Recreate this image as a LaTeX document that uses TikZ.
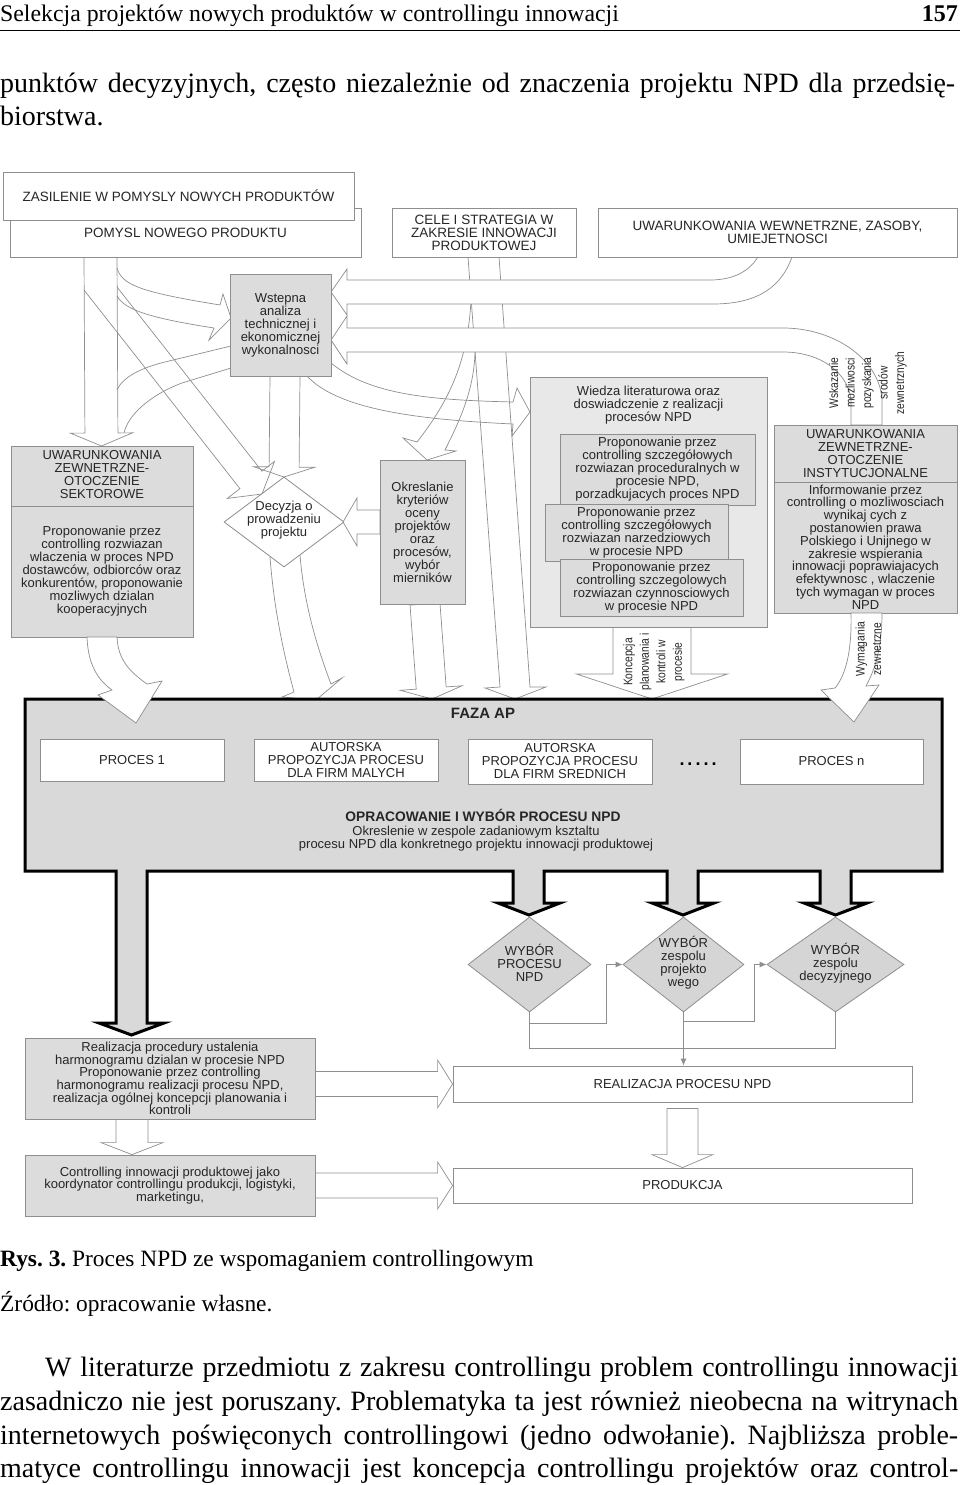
\documentclass[tikz,border=0pt]{standalone}
\usepackage{fontspec}
\setmainfont{Liberation Serif}
\newfontfamily\arialfont{Liberation Sans}
\newfontfamily\narrowfont{Liberation Sans}[FakeStretch=0.82]
\usetikzlibrary{calc,positioning,shapes.geometric,arrows.meta}
\frenchspacing

\definecolor{edgegrey}{HTML}{8E8E8E}
\definecolor{boxgrey}{HTML}{DCDCDC}
\definecolor{paleg}{HTML}{E8E8E8}
\definecolor{fazagrey}{HTML}{D9D9D9}
\definecolor{diagrey}{HTML}{D5D5D5}
\definecolor{inkgrey}{HTML}{262626}

\tikzset{
    txt/.style={align=center, inner sep=0pt, text=inkgrey, font=\arialfont\fontsize{13}{13}\selectfont},
    whitebox/.style={txt, draw=edgegrey, fill=white, line width=0.8pt},
    greybox/.style={whitebox, fill=boxgrey},
    band/.style={draw=edgegrey, line width=0.7pt, line join=miter},
    decision/.style={diamond, draw=edgegrey, line width=0.8pt, inner sep=0pt},
    vtext/.style={rotate=90, align=center, inner sep=0pt, text=inkgrey, font=\narrowfont\fontsize{12.5}{16.5}\selectfont},
    conn/.style={draw=edgegrey, line width=0.8pt, -{Latex[length=7pt,width=6pt]}},
    pagetext/.style={inner sep=0pt, anchor=base west, font=\fontsize{28}{33}\selectfont}
}

% straight hollow arrow: options, from, tip, half shaft, half head, head length
\newcommand{\blockarrow}[6][]{%
    \coordinate (ba-s) at (#2);
    \coordinate (ba-t) at (#3);
    \coordinate (ba-h) at ($(ba-t)!#6!(ba-s)$);
    \draw[band,#1] ($(ba-s)!#4!90:(ba-t)$) -- ($(ba-h)!#4!90:(ba-t)$) -- ($(ba-h)!#5!90:(ba-t)$)
        -- (ba-t) -- ($(ba-h)!#5!-90:(ba-t)$) -- ($(ba-h)!#4!-90:(ba-t)$) -- ($(ba-s)!#4!-90:(ba-t)$) -- cycle;
}

\begin{document}
\begin{tikzpicture}[x=1pt,y=-1pt]
    \useasboundingbox (0,0) rectangle (960,1485);

    % page text
    \node[inner sep=0pt, anchor=base west, font=\fontsize{23.8}{24}\selectfont] (runhead) at (0,22) {Selekcja projektów nowych produktów w controllingu innowacji};
    \node[inner sep=0pt, anchor=base east, font=\bfseries\fontsize{24}{24}\selectfont] (pageno) at (958,22) {157};
    \draw[line width=1pt] (0,31) -- (960,31);
    \node[pagetext] (txt1) at (0,93) {\makebox[955pt][s]{punktów decyzyjnych, często niezależnie od znaczenia projektu NPD dla przedsię-}};
    \node[pagetext] (txt2) at (0,126) {biorstwa.};

    % hollow arrows, upper part
    \blockarrow{100.5,0 |- 0,257}{101.5,446}{16.5pt}{31pt}{13pt}
    \draw[band] (117,268) .. controls (122,285) and (140,292) .. (220,305) -- (223,294) -- (231,318)
        -- (209,340) -- (214,328) .. controls (150,318) and (125,310) .. (117,296);
    \draw[band] (117,390) .. controls (122,378) and (140,368) .. (165,362) -- (231,346);
    \draw[band] (124,433) .. controls (128,415) and (150,395) .. (182,383) -- (231,368);
    \draw[band] (117,287) -- (261.9,471.2) -- (274.5,461.4) -- (262,494) -- (227.3,498.4) -- (239.9,488.6) -- (84,290);
    \blockarrow{285,376}{284,477}{15pt}{30.5pt}{10pt}
    \blockarrow{380,522}{343,522}{12pt}{24pt}{14pt}
    \draw[band] (270,557) .. controls (274,610) and (284,655) .. (294,692) -- (282,697) -- (316,700)
        -- (342,678) -- (331,684) .. controls (318,650) and (304,605) .. (300,555);
    \blockarrow{425,604}{432,699}{15pt}{31pt}{11pt}
    \draw[band] (468,257) -- (500,687) -- (485,688) -- (515,699) -- (546,687) -- (530,687) -- (499,257);
    \draw[band] (471,300) .. controls (468,360) and (450,400) .. (417,442) -- (403,438) -- (427,460)
        -- (456,451) -- (445,450) .. controls (460,420) and (474,390) .. (475,352);
    \draw[band] (331,363) .. controls (370,395) and (430,400) .. (513,402) -- (517,388) -- (530,412)
        -- (512,436) -- (513,424) .. controls (430,420) and (340,412) .. (307,376);
    \blockarrow{652,627}{652,699}{39pt}{75.5pt}{25pt}
    \draw[band, fill=white] (758,257) .. controls (750,270) and (735,280) .. (710,280) -- (347,280) -- (347,269)
        -- (331,292) -- (347,315) -- (347,304) -- (713,304) .. controls (760,304) and (782,285) .. (792,257) -- cycle;
    \draw[band, fill=white] (851,425) -- (851,400) .. controls (848,372) and (820,352) .. (783,352) -- (347,352)
        -- (347,364) -- (331,340) -- (347,316) -- (347,328) -- (783,328) .. controls (835,328) and (880,360) .. (882,400)
        -- (882,425) -- cycle;

    % boxes, upper part
    \node[whitebox, font=\arialfont\fontsize{13.5}{13}\selectfont, minimum width=351pt, minimum height=49pt] (pomysl) at (185.5,232.5) {POMYSL NOWEGO PRODUKTU};
    \node[whitebox, font=\arialfont\fontsize{13.5}{13}\selectfont, minimum width=351pt, minimum height=48pt] (zasil) at (178.5,196) {ZASILENIE W POMYSLY NOWYCH PRODUKTÓW};
    \node[whitebox, font=\arialfont\fontsize{13.5}{13}\selectfont, minimum width=184pt, minimum height=49pt] (cele) at (484,232.5) {CELE I STRATEGIA W\\ ZAKRESIE INNOWACJI\\ PRODUKTOWEJ};
    \node[whitebox, font=\arialfont\fontsize{13.5}{13}\selectfont, minimum width=359pt, minimum height=49pt] (wewn) at (777.5,232.5) {UWARUNKOWANIA WEWNETRZNE, ZASOBY,\\ UMIEJETNOSCI};

    \node[greybox, minimum width=101pt, minimum height=102pt] (wstepna) at (280.5,325) {Wstepna\\ analiza\\ technicznej i\\ ekonomicznej\\ wykonalnosci};

    \node[greybox, minimum width=182pt, minimum height=191pt] (sekt) at (102,541.5) {};
    \draw[band] (sekt.west |- 0,506) -- (sekt.east |- 0,506);
    \node[txt] (sekt-head) at (102,475) {UWARUNKOWANIA\\ ZEWNETRZNE-\\ OTOCZENIE\\ SEKTOROWE};
    \node[txt] (sekt-body) at (102,571) {Proponowanie przez\\ controlling rozwiazan\\ wlaczenia w proces NPD\\ dostawców, odbiorców oraz\\ konkurentów, proponowanie\\ mozliwych dzialan\\ kooperacyjnych};

    \node[decision, fill=white, minimum width=120pt, minimum height=90pt] (dec) at (284,522) {};
    \node[txt] (dec-t) at (284,520) {Decyzja o\\ prowadzeniu\\ projektu};

    \node[greybox, minimum width=85pt, minimum height=144pt] (okr) at (422.5,532) {Okreslanie\\ kryteriów\\ oceny\\ projektów\\ oraz\\ procesów,\\ wybór\\ mierników};

    \node[whitebox, fill=paleg, minimum width=237pt, minimum height=250pt] (wiedza) at (648.5,502) {};
    \node[txt] (wiedza-t) at (648.5,405) {Wiedza literaturowa oraz\\ doswiadczenie z realizacji\\ procesów NPD};
    \node[greybox, minimum width=195pt, minimum height=71pt] (proc-a) at (657.5,469.5) {Proponowanie przez\\ controlling szczegółowych\\ rozwiazan  proceduralnych w\\ procesie NPD,\\ porzadkujacych proces NPD};
    \node[greybox, minimum width=183pt, minimum height=57pt] (proc-b) at (636.5,532.5) {Proponowanie przez\\ controlling szczegółowych\\ rozwiazan  narzedziowych\\ w procesie NPD};
    \node[greybox, minimum width=183pt, minimum height=57pt] (proc-c) at (651.5,587.5) {Proponowanie przez\\ controlling szczegolowych\\ rozwiazan  czynnosciowych\\ w procesie NPD};

    \node[greybox, minimum width=183pt, minimum height=188pt] (instyt) at (865.5,519) {};
    \draw[band] (instyt.west |- 0,482) -- (instyt.east |- 0,482);
    \node[txt] (instyt-head) at (865.5,453.5) {UWARUNKOWANIA\\ ZEWNETRZNE-\\ OTOCZENIE\\ INSTYTUCJONALNE};
    \node[txt, font=\arialfont\fontsize{13}{12.8}\selectfont] (instyt-body) at (865.5,547) {Informowanie przez\\ controlling o mozliwosciach\\ wynikaj cych z\\ postanowien prawa\\ Polskiego i Unijnego w\\ zakresie  wspierania\\ innowacji  poprawiajacych\\ efektywnosc , wlaczenie\\ tych wymagan w proces\\ NPD};

    \node[vtext] (wskaz-t) at (868,383) {Wskazanie\\ mozliwosci\\ pozyskania\\ srodów\\ zewnetrznych};
    \node[vtext] (konc-t) at (654,662) {Koncepcja\\ planowania i\\ kontroli w\\ procesie};

    % faza AP with its thick arrows
    \draw[line width=3pt, fill=fazagrey, line join=miter] (25,699) -- (942,699) -- (942,871) -- (851,871) -- (851,903)
        -- (867,903) -- (835.5,915) -- (804,903) -- (820,903) -- (820,871) -- (698,871) -- (698,903) -- (714,903)
        -- (683,915) -- (652,903) -- (667,903) -- (667,871) -- (544,871) -- (544,903) -- (560,903) -- (529,915)
        -- (498,903) -- (513,903) -- (513,871) -- (147,871) -- (147,1023) -- (164,1023) -- (131.5,1035)
        -- (99,1023) -- (116,1023) -- (116,871) -- (25,871) -- cycle;
    \draw[band, fill=white] (87,637) .. controls (88,665) and (98,680) .. (112,690) -- (98,695) -- (136,723)
        -- (162,681) -- (147,684) .. controls (130,672) and (118,660) .. (117,637) -- cycle;
    \draw[band, fill=white] (851,613) .. controls (852,650) and (846,675) .. (835,688) -- (821,690) -- (854,722)
        -- (879,685) -- (866,686) .. controls (876,668) and (882,645) .. (882,613) -- cycle;
    \node[vtext] (wymag-t) at (868.5,649) {Wymagania\\ zewnetrzne};

    \node[txt, font=\arialfont\bfseries\fontsize{15}{15}\selectfont] (faza-t) at (483,713) {FAZA AP};
    \node[whitebox, minimum width=184pt, minimum height=42pt] (proc-1) at (132,760) {PROCES 1};
    \node[whitebox, minimum width=184pt, minimum height=42pt] (aut-m) at (346,760) {AUTORSKA\\ PROPOZYCJA PROCESU\\ DLA FIRM MALYCH};
    \node[whitebox, minimum width=184pt, minimum height=45pt] (aut-s) at (560,761.5) {AUTORSKA\\ PROPOZYCJA PROCESU\\ DLA FIRM SREDNICH};
    \node[txt, text=black, font=\arialfont\bfseries\fontsize{18}{18}\selectfont] (dots) at (698,764) {.\,.\,.\,.\,.};
    \node[whitebox, minimum width=183pt, minimum height=45pt] (proc-n) at (831.5,761.5) {PROCES n};
    \node[txt, font=\arialfont\bfseries\fontsize{13.8}{13.8}\selectfont] (oprac-t) at (483,815) {OPRACOWANIE I WYBÓR PROCESU NPD};
    \node[txt] (oprac-b) at (476,839) {Okreslenie w zespole zadaniowym ksztaltu\\ procesu NPD dla konkretnego projektu innowacji produktowej};

    % selection diamonds
    \node[decision, fill=diagrey, minimum width=123pt, minimum height=95pt] (wyb-proc) at (529.5,964.5) {};
    \node[txt] (wyb-proc-t) at (529.5,963) {WYBÓR\\ PROCESU\\ NPD};
    \node[decision, fill=diagrey, minimum width=121pt, minimum height=95pt] (wyb-zesp) at (683.5,964.5) {};
    \node[txt] (wyb-zesp-t) at (683.5,962.5) {WYBÓR\\ zespolu\\ projekto\\ wego};
    \node[decision, fill=diagrey, minimum width=137pt, minimum height=95pt] (wyb-dec) at (835.5,964.5) {};
    \node[txt] (wyb-dec-t) at (835.5,963) {WYBÓR\\ zespolu\\ decyzyjnego};

    % bottom boxes
    \node[greybox, font=\arialfont\fontsize{13}{12.7}\selectfont, minimum width=290pt, minimum height=81pt] (harm) at (170,1078.5) {Realizacja procedury ustalenia\\ harmonogramu dzialan w procesie NPD\\ Proponowanie przez controlling\\ harmonogramu realizacji procesu NPD,\\ realizacja ogólnej koncepcji planowania i\\ kontroli};
    \node[greybox, font=\arialfont\fontsize{13}{12.7}\selectfont, minimum width=290pt, minimum height=61pt] (coord) at (170,1185.5) {Controlling innowacji produktowej jako\\ koordynator controllingu produkcji, logistyki,\\ marketingu,};
    \node[whitebox, minimum width=459pt, minimum height=36pt] (realiz) at (682.5,1084) {REALIZACJA PROCESU NPD};
    \node[whitebox, minimum width=459pt, minimum height=35pt] (prod) at (682.5,1185.5) {PRODUKCJA};

    \draw[conn] (wyb-proc.south) -- ++(0,11) -- ++(76.5,0) |- (wyb-zesp.west);
    \draw[conn] (wyb-zesp.south) -- ++(0,9) -- ++(70.5,0) |- (wyb-dec.west);
    \draw[conn, -] (wyb-proc.south) -- ++(0,36) -| (wyb-dec.south);
    \draw[conn] (wyb-zesp.south) -- (wyb-zesp.south |- realiz.north);

    \blockarrow[fill=white]{harm.east |- realiz.west}{realiz.west}{12.5pt}{24pt}{15pt}
    \blockarrow[fill=white]{coord.east |- prod.west}{prod.west}{12.5pt}{23.5pt}{15pt}
    \blockarrow[fill=white]{132,0 |- harm.south}{132,0 |- coord.north}{16pt}{31pt}{12pt}
    \blockarrow[fill=white]{$(realiz.south)+(0,6)$}{prod.north}{15.5pt}{30.5pt}{13pt}

    % caption and following text
    \node[pagetext, font=\fontsize{23.4}{24}\selectfont] (caption) at (0,1266) {\textbf{Rys. 3.} Proces NPD ze wspomaganiem controllingowym};
    \node[pagetext, font=\fontsize{23.4}{24}\selectfont] (source) at (0,1311) {Źródło: opracowanie własne.};
    \node[pagetext] (par1) at (45,1376) {\makebox[913pt][s]{W literaturze przedmiotu z zakresu controllingu problem controllingu innowacji}};
    \node[pagetext] (par2) at (0,1410) {\makebox[958pt][s]{zasadniczo nie jest poruszany. Problematyka ta jest również nieobecna na witrynach}};
    \node[pagetext] (par3) at (0,1444) {\makebox[958pt][s]{internetowych poświęconych controllingowi (jedno odwołanie). Najbliższa proble-}};
    \node[pagetext] (par4) at (0,1477) {\makebox[958pt][s]{matyce controllingu innowacji jest koncepcja controllingu projektów oraz control-}};
\end{tikzpicture}
\end{document}
